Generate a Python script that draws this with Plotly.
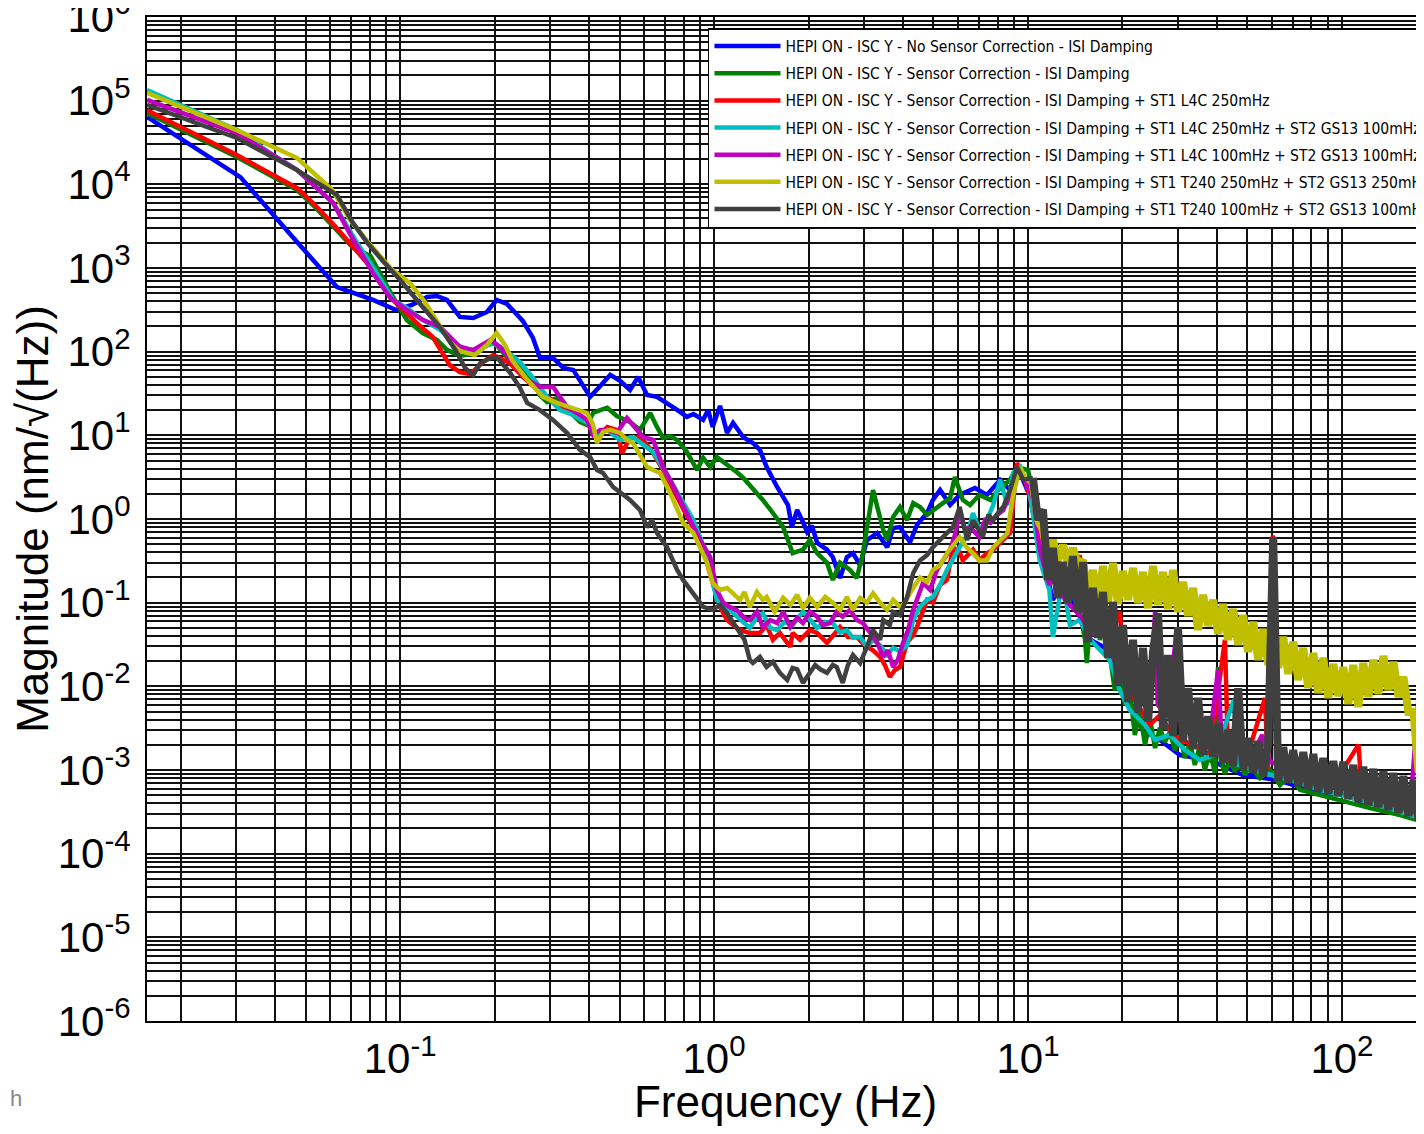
import plotly.graph_objects as go

# ---------------- data ----------------
# shared high-frequency bins (Hz) used by the two dense, noisy series
freq_hi = [10.37, 10.76, 11.16, 11.58, 12.01, 12.46, 12.93, 13.41, 13.91, 14.43,
           14.97, 15.53, 16.11, 16.71, 17.34, 17.99, 18.66, 19.36, 20.08, 20.83,
           21.61, 22.42, 23.26, 24.13, 25.03, 25.96, 26.94, 27.94, 28.99, 30.07,
           31.20, 32.37, 33.58, 34.83, 36.14, 37.49, 38.89, 40.35, 41.85, 43.42,
           45.04, 46.73, 48.47, 50.29, 52.17, 54.12, 56.14, 58.24, 60.42, 62.68,
           65.03, 67.46, 69.98, 72.60, 75.32, 78.14, 81.06, 84.09, 87.24, 90.50,
           93.89, 97.40, 101.0, 104.8, 108.7, 112.8, 117.0, 121.4, 126.0, 130.7,
           135.6, 140.6, 145.9, 151.4, 157.0, 162.9, 169.0, 175.3, 181.9]

blue_f = [0.015625, 0.031, 0.0446, 0.063, 0.082, 0.097, 0.109, 0.122, 0.131, 0.141,
          0.155, 0.171, 0.189, 0.203, 0.219, 0.246, 0.265, 0.279, 0.307, 0.331,
          0.356, 0.38, 0.403, 0.434, 0.467, 0.502, 0.54, 0.573, 0.612, 0.658,
          0.708, 0.763, 0.82, 0.86, 0.923, 0.958, 0.99, 1.045, 1.10, 1.15,
          1.24, 1.33, 1.40, 1.47, 1.59, 1.66, 1.72, 1.77, 1.84, 1.92,
          1.98, 2.05, 2.13, 2.29, 2.39, 2.52, 2.65, 2.77, 2.92, 3.07,
          3.31, 3.56, 3.72, 3.91, 4.21, 4.43, 4.77, 4.98, 5.25, 5.65,
          6.06, 6.78, 7.4, 8.15, 8.77, 9.23,
          10.1, 11.2, 12.0, 12.9, 14.3, 15.8, 18.2, 20.7, 23.2, 26.3,
          30.5, 37.9, 48.4, 62.0, 79.2, 100.7, 129.0, 165.0, 182.0]
blue_v = [6.4e4, 1.22e4, 2.55e3, 5.9e2, 4.15e2, 3.15e2, 3.62e2, 4.5e2, 4.63e2, 4.15e2,
          2.6e2, 2.53e2, 2.98e2, 4.15e2, 3.72e2, 2.33e2, 1.46e2, 84, 84, 64,
          60.5, 42, 28.8, 38.9, 52.7, 44.7, 34.9, 49.9, 30.4, 28.8,
          24.4, 20.1, 16.6, 18, 15.3, 20.1, 12.6, 22.5, 10.7, 14.1,
          9.5, 8.1, 6.7, 4.2, 2.4, 1.83, 1.47, 0.80, 1.28, 0.92,
          0.70, 0.83, 0.52, 0.43, 0.35, 0.197, 0.35, 0.39, 0.28, 0.56,
          0.68, 0.46, 0.78, 0.80, 0.53, 0.85, 1.18, 1.69, 2.22, 1.47,
          1.94, 2.35, 1.94, 2.93, 2.22, 4.3,
          1.94, 0.32, 0.108, 0.163, 0.082, 0.036, 0.027, 0.0069, 0.003, 0.00228,
          0.00151, 0.00132, 0.00087, 0.00076, 0.00058, 0.0005, 0.00038, 0.000315, 0.000267]

green_f = [0.015625, 0.0302, 0.047, 0.0528, 0.062, 0.071, 0.0805, 0.0883, 0.095, 0.105,
           0.118, 0.131, 0.141, 0.155, 0.176, 0.189, 0.20, 0.219, 0.246, 0.265,
           0.279, 0.294, 0.316, 0.348, 0.374, 0.394, 0.412, 0.434, 0.457, 0.49,
           0.54, 0.581, 0.626, 0.658, 0.688, 0.725, 0.763, 0.82, 0.883, 0.923,
           0.972, 1.02, 1.10, 1.18, 1.24, 1.33, 1.43, 1.54, 1.66, 1.72,
           1.78, 1.92, 2.02, 2.13, 2.29, 2.39, 2.52, 2.71, 2.85, 2.98,
           3.09, 3.21, 3.33, 3.46, 3.56, 3.72, 3.91, 4.12, 4.31, 4.53,
           4.77, 4.98, 5.36, 5.65, 5.85, 6.2, 6.54, 7.0, 7.6, 8.15,
           8.77, 9.23,
           10.0, 10.5, 10.9, 11.3, 11.75, 12.2, 12.6, 13.1, 13.6, 14.1,
           14.6, 15.2, 15.4, 15.75, 16.3, 16.95, 17.6, 18.2, 18.9, 19.6,
           20.4, 21.1, 21.9, 22.7, 23.6, 24.5, 25.4, 26.3, 27.3, 28.3,
           29.4, 30.5, 31.6, 32.8, 34.0, 35.3, 36.6, 38.0, 39.4, 40.3,
           41.2, 42.4, 44.0, 45.6, 47.3, 49.1, 50.9, 54.8, 59.0, 63.5,
           68.3, 73.5, 85.1, 98.5, 123.0, 153.0, 182.5]
green_v = [7.1e4, 2.12e4, 8.55e3, 5.66e3, 3.0e3, 1.73e3, 1.39e3, 7.2e2, 4.5e2, 2.39e2,
           1.67e2, 1.38e2, 1.05e2, 89, 97, 120, 127, 86, 64, 46,
           30, 25, 28, 19, 14.5, 13.3, 18.5, 20, 21.3, 17,
           14.5, 11.6, 18.5, 12.6, 9.3, 9.8, 8.8, 6.3, 3.85, 5.4,
           4.18, 5.5, 4.5, 3.65, 3.1, 2.35, 1.69, 1.18, 0.80, 0.56,
           0.39, 0.43, 0.56, 0.39, 0.30, 0.187, 0.30, 0.246, 0.197, 0.39,
           0.97, 2.22, 1.28, 0.74, 0.56, 1.06, 1.39, 0.97, 1.55, 1.39,
           1.12, 1.28, 1.55, 1.78, 3.18, 1.69, 1.47, 1.94, 1.69, 2.35,
           2.93, 4.18,
           3.85, 1.69, 0.97, 0.32, 0.177, 0.32, 0.134, 0.214, 0.108, 0.163,
           0.0775, 0.0359, 0.019, 0.054, 0.108, 0.0359, 0.062, 0.0258, 0.009, 0.0149,
           0.006, 0.009, 0.00262, 0.00494, 0.002, 0.00396, 0.00183, 0.0032, 0.00216, 0.00285,
           0.00173, 0.00262, 0.00139, 0.00216, 0.00115, 0.002, 0.001, 0.00164, 0.00092, 0.017,
           0.00132, 0.0009, 0.00139, 0.00095, 0.00125, 0.00087, 0.00115, 0.0008, 0.001, 0.00066,
           0.00087, 0.00058, 0.0005, 0.00044, 0.00035, 0.00029, 0.00024]

red_f = [0.015625, 0.0302, 0.047, 0.0528, 0.062, 0.071, 0.082, 0.095, 0.113, 0.127,
         0.144, 0.155, 0.167, 0.184, 0.198, 0.224, 0.246, 0.279, 0.316, 0.356,
         0.394, 0.424, 0.457, 0.49, 0.51, 0.54, 0.581, 0.612, 0.64, 0.688,
         0.725, 0.78, 0.84, 0.923, 0.99, 1.045, 1.10, 1.21, 1.30, 1.40,
         1.47, 1.54, 1.62, 1.75, 1.78, 1.88, 2.02, 2.13, 2.29, 2.52,
         2.67, 2.85, 3.02, 3.21, 3.38, 3.5, 3.63, 3.77, 3.91, 4.12,
         4.31, 4.43, 4.77, 4.98, 5.25, 5.52, 5.77, 6.06, 6.2, 6.68,
         7.0, 7.4, 7.75, 8.34, 8.77, 9.23, 9.78,
         10.4, 10.9, 11.7, 12.2, 13.1, 14.1, 14.6, 15.8, 17.0, 18.2,
         19.6, 20.4, 21.9, 24.4, 26.3, 28.3, 30.5, 34.0, 37.9, 42.4,
         43.4, 49.0, 56.9, 58.1, 60.3, 62.6, 73.5, 91.8, 113.0, 116.0,
         142.0, 182.0]
red_v = [7.7e4, 2.24e4, 9.0e3, 5.98e3, 3.18e3, 1.78e3, 9.5e2, 4.15e2, 2.2e2, 1.5e2,
         69, 57, 54, 75, 91, 73, 50, 33, 24.4, 18.5,
         14.1, 9.5, 12.6, 11.6, 6.15, 9.5, 9.5, 7.7, 6.15, 3.85,
         2.69, 1.55, 0.92, 0.43, 0.172, 0.089, 0.062, 0.047, 0.0435, 0.0435,
         0.054, 0.036, 0.0435, 0.0296, 0.0435, 0.036, 0.047, 0.0435, 0.033, 0.051,
         0.039, 0.039, 0.031, 0.027, 0.0225, 0.018, 0.013, 0.0157, 0.017, 0.033,
         0.041, 0.051, 0.108, 0.1, 0.163, 0.187, 0.46, 0.40, 0.32, 0.43,
         0.32, 0.39, 0.43, 0.56, 0.68, 4.67, 2.93,
         1.28, 0.56, 0.187, 0.49, 0.142, 0.246, 0.37, 0.082, 0.142, 0.036,
         0.078, 0.0119, 0.0069, 0.00345, 0.0045, 0.003, 0.00228, 0.002, 0.00151, 0.036,
         0.00132, 0.00115, 0.00725, 0.001, 0.64, 0.00087, 0.00072, 0.00058, 0.002, 0.00046,
         0.00038, 0.00029]

cyan_f = [0.015625, 0.0302, 0.0394, 0.047, 0.0612, 0.073, 0.082, 0.095, 0.105, 0.118,
          0.134, 0.152, 0.171, 0.184, 0.198, 0.219, 0.241, 0.265, 0.294, 0.323,
          0.356, 0.394, 0.424, 0.457, 0.502, 0.552, 0.595, 0.64, 0.688, 0.74,
          0.797, 0.86, 0.923, 0.972, 1.02, 1.08, 1.15, 1.23, 1.30, 1.37,
          1.43, 1.51, 1.59, 1.68, 1.78, 1.92, 2.02, 2.13, 2.26, 2.39,
          2.52, 2.65, 2.77, 2.92, 3.07, 3.21, 3.38, 3.56, 3.72, 3.91,
          4.12, 4.31, 4.53, 4.77, 4.98, 5.25, 5.52, 5.85, 6.06, 6.4,
          6.68, 7.0, 7.4, 7.75, 8.15, 8.6, 8.97, 9.45,
          10.1, 10.9, 11.7, 12.0, 12.9, 13.6, 14.6, 15.8, 17.0, 18.2,
          19.6, 21.1, 23.6, 25.4, 28.3, 31.6, 35.3, 39.4, 45.3, 46.7,
          54.9, 68.3, 85.0, 106.0, 132.0, 165.0, 182.0]
cyan_v = [1.34e5, 4.45e4, 2.24e4, 1.48e4, 6.0e3, 1.99e3, 1.03e3, 4.15e2, 3.33e2, 2.4e2,
          1.82e2, 1.2e2, 1.0e2, 1.14e2, 1.27e2, 1.0e2, 75, 48.5, 28.8, 20,
          17.5, 14.1, 10.1, 11.6, 8.8, 9.5, 7.7, 6.3, 4.07, 2.55,
          1.55, 0.97, 0.49, 0.246, 0.108, 0.094, 0.075, 0.059, 0.05, 0.066,
          0.075, 0.05, 0.047, 0.059, 0.054, 0.078, 0.062, 0.05, 0.059, 0.057,
          0.044, 0.047, 0.038, 0.039, 0.0296, 0.036, 0.031, 0.0237, 0.0288, 0.026,
          0.031, 0.062, 0.089, 0.108, 0.117, 0.163, 0.246, 0.37, 0.46, 0.64,
          1.18, 0.74, 0.97, 1.47, 2.93, 1.47, 3.55, 4.18,
          2.22, 0.32, 0.142, 0.039, 0.187, 0.054, 0.062, 0.036, 0.027, 0.0207,
          0.009, 0.0052, 0.00345, 0.0023, 0.00262, 0.00173, 0.00132, 0.00151, 0.0069, 0.00115,
          0.00095, 0.00076, 0.00058, 0.000476, 0.00038, 0.00029, 0.000253]

magenta_f = [0.015625, 0.0302, 0.047, 0.0612, 0.071, 0.082, 0.093, 0.105, 0.118, 0.134,
             0.144, 0.155, 0.171, 0.194, 0.208, 0.229, 0.254, 0.279, 0.307, 0.323,
             0.34, 0.366, 0.394, 0.412, 0.434, 0.457, 0.49, 0.528, 0.552, 0.595,
             0.64, 0.688, 0.725, 0.78, 0.84, 0.903, 0.972, 1.02, 1.07, 1.12,
             1.18, 1.25, 1.30, 1.37, 1.43, 1.51, 1.59, 1.66, 1.75, 1.84,
             1.92, 2.02, 2.13, 2.22, 2.34, 2.46, 2.57, 2.71, 2.85, 2.98,
             3.14, 3.31, 3.46, 3.58, 3.72, 3.85, 4.0, 4.15, 4.31, 4.63,
             4.88, 5.13, 5.36, 5.65, 5.85, 6.06, 6.3, 6.54, 7.0, 7.3,
             7.6, 7.97, 8.34, 8.77, 9.23, 9.78,
             10.4, 10.9, 11.7, 12.4, 13.1, 14.1, 15.0, 15.8, 17.0, 18.2,
             19.6, 21.1, 22.8, 24.4, 25.4, 25.9, 27.9, 29.8, 30.5, 34.0,
             37.9, 40.3, 41.5, 45.7, 50.9, 55.7, 59.0, 68.3, 85.0, 106.0,
             132.0, 165.0, 177.0, 182.0]
magenta_v = [1.02e5, 4.1e4, 1.48e4, 6.0e3, 2.16e3, 8.7e2, 4.4e2, 3.15e2, 2.4e2, 1.97e2,
             1.5e2, 1.14e2, 1.05e2, 1.38e2, 1.14e2, 73, 46, 38, 38, 28.8,
             21.9, 18.5, 15.3, 10.1, 11.6, 11.6, 10.7, 16.1, 13.3, 9.5,
             8.8, 4.18, 2.93, 1.69, 1.03, 0.56, 0.35, 0.142, 0.10, 0.089,
             0.082, 0.066, 0.062, 0.078, 0.051, 0.062, 0.057, 0.078, 0.051, 0.066,
             0.057, 0.078, 0.068, 0.054, 0.057, 0.078, 0.068, 0.082, 0.062, 0.057,
             0.044, 0.033, 0.0225, 0.027, 0.017, 0.0207, 0.033, 0.047, 0.082, 0.172,
             0.142, 0.246, 0.32, 0.43, 0.64, 1.28, 0.74, 0.80, 0.61, 0.97,
             0.90, 1.12, 1.28, 1.94, 3.55, 2.93,
             1.69, 0.43, 0.163, 0.23, 0.108, 0.082, 0.062, 0.04, 0.054, 0.027,
             0.0157, 0.009, 0.0069, 0.006, 0.078, 0.006, 0.0045, 0.051, 0.00396, 0.00262,
             0.00228, 0.0157, 0.002, 0.00173, 0.00132, 0.00262, 0.00125, 0.00106, 0.0008, 0.00058,
             0.00044, 0.000333, 0.0119, 0.000253]

yellow_f_lo = [0.015625, 0.0302, 0.047, 0.0608, 0.0693, 0.0805, 0.0944, 0.1076, 0.12, 0.134,
               0.144, 0.155, 0.173, 0.189, 0.203, 0.216, 0.227, 0.254, 0.285, 0.316,
               0.356, 0.394, 0.412, 0.424, 0.443, 0.467, 0.502, 0.528, 0.552, 0.581,
               0.612, 0.64, 0.673, 0.725, 0.763, 0.797, 0.86, 0.903, 0.95, 0.99,
               1.045, 1.10, 1.15, 1.21, 1.25, 1.30, 1.37, 1.43, 1.47, 1.56,
               1.66, 1.75, 1.84, 1.92, 2.02, 2.13, 2.26, 2.39, 2.52, 2.65,
               2.77, 2.92, 3.07, 3.21, 3.38, 3.56, 3.72, 3.91, 4.06, 4.21,
               4.53, 4.77, 4.98, 5.25, 5.52, 5.77, 6.06, 6.4, 6.68, 7.0,
               7.4, 7.75, 8.15, 8.6, 8.97, 9.23, 9.45, 9.78]
yellow_v_lo = [1.24e5, 4.45e4, 2.06e4, 8.55e3, 3.75e3, 1.88e3, 9.5e2, 6.6e2, 3.93e2, 1.97e2,
               1.31e2, 1.02e2, 91, 120, 167, 120, 80, 46, 28.8, 24.4,
               21.3, 18.5, 13.3, 8.1, 11, 11.6, 10.7, 8.8, 8.1, 5.8,
               4.18, 3.85, 3.55, 2.05, 1.28, 0.90, 0.68, 0.45, 0.30, 0.172,
               0.142, 0.15, 0.13, 0.108, 0.134, 0.089, 0.134, 0.108, 0.117, 0.078,
               0.114, 0.094, 0.124, 0.086, 0.114, 0.089, 0.117, 0.1, 0.082, 0.117,
               0.082, 0.114, 0.1, 0.13, 0.1, 0.082, 0.108, 0.089, 0.1, 0.13,
               0.2, 0.177, 0.246, 0.28, 0.39, 0.49, 0.61, 0.45, 0.39, 0.32,
               0.32, 0.46, 0.56, 0.68, 1.94, 2.93, 4.18, 3.1]
yellow_v_hi = [2.55, 0.97, 0.74, 0.36, 0.56, 0.324, 0.49, 0.298, 0.45, 0.282,
               0.324, 0.099, 0.246, 0.091, 0.275, 0.102, 0.298, 0.0965, 0.239, 0.108,
               0.26, 0.099, 0.233, 0.086, 0.275, 0.094, 0.233, 0.084, 0.246, 0.0775,
               0.177, 0.0695, 0.15, 0.0472, 0.124, 0.0527, 0.108, 0.0423, 0.0965, 0.0359,
               0.084, 0.0313, 0.071, 0.0258, 0.059, 0.0207, 0.0485, 0.018, 0.0435, 0.0166,
               0.039, 0.0141, 0.034, 0.0119, 0.0288, 0.00954, 0.025, 0.0083, 0.0219, 0.00725,
               0.0185, 0.00766, 0.017, 0.00615, 0.018, 0.00566, 0.019, 0.00745, 0.0207, 0.00809,
               0.0231, 0.00903, 0.0196, 0.00745, 0.013, 0.00494, 0.00494, 0.0010, 0.0007]

gray_f_lo = [0.015625, 0.0302, 0.047, 0.063, 0.0705, 0.0786, 0.0887, 0.1, 0.118, 0.134,
             0.15, 0.161, 0.171, 0.18, 0.194, 0.203, 0.224, 0.241, 0.254, 0.279,
             0.307, 0.34, 0.374, 0.403, 0.424, 0.443, 0.477, 0.502, 0.54, 0.581,
             0.612, 0.635, 0.658, 0.708, 0.763, 0.797, 0.86, 0.923, 0.99, 1.045,
             1.10, 1.18, 1.25, 1.30, 1.33, 1.40, 1.47, 1.54, 1.62, 1.71,
             1.78, 1.84, 1.92, 2.02, 2.1, 2.18, 2.29, 2.39, 2.46, 2.57,
             2.67, 2.77, 2.92, 3.07, 3.21, 3.38, 3.46, 3.63, 3.72, 3.91,
             4.12, 4.31, 4.53, 4.77, 4.98, 5.36, 5.77, 6.06, 6.4, 6.68,
             6.93, 7.18, 7.48, 7.75, 8.15, 8.34, 8.77, 9.23, 9.66]
gray_v_lo = [8.9e4, 3.58e4, 1.48e4, 7.45e3, 3.55e3, 2.0e3, 1.18e3, 7.2e2, 3.42e2, 1.97e2,
             1.05e2, 64, 52.7, 73, 84, 86, 56, 37, 24.4, 20,
             15.3, 10.7, 6.7, 5.5, 3.85, 3.55, 2.41, 2.05, 1.69, 1.28,
             0.80, 0.97, 0.68, 0.46, 0.246, 0.187, 0.13, 0.089, 0.082, 0.094,
             0.075, 0.051, 0.036, 0.0207, 0.019, 0.0225, 0.017, 0.0196, 0.0145, 0.0119,
             0.0166, 0.016, 0.011, 0.0145, 0.018, 0.016, 0.0145, 0.018, 0.017, 0.011,
             0.018, 0.0237, 0.019, 0.0296, 0.047, 0.036, 0.062, 0.054, 0.0775, 0.071,
             0.117, 0.226, 0.32, 0.37, 0.46, 0.61, 0.80, 1.39, 0.56, 0.97,
             0.74, 0.61, 1.12, 0.97, 1.28, 1.39, 2.22, 4.18, 2.93]
gray_v_hi = [3.1, 0.97, 1.3, 0.187, 0.45, 0.114, 0.306, 0.099, 0.36, 0.0775,
             0.306, 0.034, 0.15, 0.038, 0.134, 0.0219, 0.102, 0.0101, 0.054, 0.0065,
             0.036, 0.0049, 0.0288, 0.0038, 0.0258, 0.075, 0.003, 0.0237, 0.00255, 0.0498,
             0.00222, 0.0095, 0.00178, 0.0073, 0.00151, 0.0044, 0.00143, 0.00355, 0.00121, 0.0030,
             0.00112, 0.0095, 0.0010, 0.00241, 0.00092, 0.00222, 0.00085, 0.00205, 0.61, 0.00074,
             0.00188, 0.0007, 0.00173, 0.000645, 0.00164, 0.00059, 0.00155, 0.00055, 0.00139, 0.00052,
             0.00128, 0.00049, 0.00125, 0.00045, 0.00115, 0.000415, 0.00109, 0.00038, 0.00103, 0.00036,
             0.00097, 0.000333, 0.00092, 0.000306, 0.00085, 0.000282, 0.00076, 0.000253, 0.0113]

names = [
    "HEPI ON - ISC Y - No Sensor Correction - ISI Damping",
    "HEPI ON - ISC Y - Sensor Correction - ISI Damping",
    "HEPI ON - ISC Y - Sensor Correction - ISI Damping + ST1 L4C 250mHz",
    "HEPI ON - ISC Y - Sensor Correction - ISI Damping + ST1 L4C 250mHz + ST2 GS13 100mHz",
    "HEPI ON - ISC Y - Sensor Correction - ISI Damping + ST1 L4C 100mHz + ST2 GS13 100mHz",
    "HEPI ON - ISC Y - Sensor Correction - ISI Damping + ST1 T240 250mHz + ST2 GS13 250mHz",
    "HEPI ON - ISC Y - Sensor Correction - ISI Damping + ST1 T240 100mHz + ST2 GS13 100mHz",
]
colors = ["#0000FF", "#008000", "#FF0000", "#00BFBF", "#BF00BF", "#BFBF00", "#404040"]

x_tickvals = [0.1, 1, 10, 100]
x_ticktext = ["10<sup>-1</sup>", "10<sup>0</sup>", "10<sup>1</sup>", "10<sup>2</sup>"]
y_tickvals = [1e-6, 1e-5, 1e-4, 1e-3, 1e-2, 1e-1, 1, 10, 100, 1e3, 1e4, 1e5, 1e6]
y_ticktext = ["10<sup>-6</sup>", "10<sup>-5</sup>", "10<sup>-4</sup>", "10<sup>-3</sup>",
              "10<sup>-2</sup>", "10<sup>-1</sup>", "10<sup>0</sup>", "10<sup>1</sup>",
              "10<sup>2</sup>", "10<sup>3</sup>", "10<sup>4</sup>", "10<sup>5</sup>",
              "10<sup>6</sup>"]

# (x, y, dense high-frequency part or None)
series = [
    (blue_f, blue_v, None),
    (green_f, green_v, None),
    (red_f, red_v, None),
    (cyan_f, cyan_v, None),
    (magenta_f, magenta_v, None),
    (yellow_f_lo + freq_hi[:1], yellow_v_lo + yellow_v_hi[:1], yellow_v_hi),
    (gray_f_lo + freq_hi[:1], gray_v_lo + gray_v_hi[:1], gray_v_hi),
]

# ---------------- figure ----------------
fig = go.Figure()
for (fx, fy, dense), nm, col in zip(series, names, colors):
    fig.add_trace(go.Scatter(x=fx, y=fy, mode="lines", name=nm, legendgroup=nm,
                             line=dict(color=col, width=4.5)))
    if dense is not None:
        # noisy band above 10 Hz: same series, drawn with a heavier stroke
        fig.add_trace(go.Scatter(x=freq_hi, y=dense, mode="lines", name=nm, legendgroup=nm,
                                 showlegend=False, line=dict(color=col, width=8)))

label_font = dict(family="Liberation Sans, Arial, sans-serif", size=42, color="black")
title_font = dict(family="Liberation Sans, Arial, sans-serif", size=44, color="black")
grid = dict(showgrid=True, gridcolor="#111111", gridwidth=1.5)

# page body has an 8 px margin: figure is sized so that it ends at the window edge
fig.update_layout(
    width=1416, height=1118,
    margin=dict(l=139, r=0, t=9, b=105, autoexpand=False),
    paper_bgcolor="white", plot_bgcolor="white",
    showlegend=True,
    legend=dict(x=0.4393, y=0.989, xanchor="left", yanchor="top",
                bgcolor="white", bordercolor="black", borderwidth=1.5,
                font=dict(family="DejaVu Sans Condensed, Liberation Sans Narrow, sans-serif",
                          size=15.5, color="black"),
                itemwidth=66, tracegroupgap=4),
    xaxis=dict(type="log", range=[-1.8062, 2.2615], tickmode="array",
               tickvals=x_tickvals, ticktext=x_ticktext, tickfont=label_font, ticks="",
               ticklabeloverflow="allow",
               title=dict(text="Frequency (Hz)", font=title_font, standoff=4),
               showline=True, mirror=True, linecolor="black", linewidth=2,
               minor=dict(dtick="D1", ticks="", **grid), zeroline=False, **grid),
    yaxis=dict(type="log", range=[-6, 6], tickmode="array",
               tickvals=y_tickvals, ticktext=y_ticktext, tickfont=label_font, ticks="",
               ticklabeloverflow="allow", ticklabelstandoff=6,
               title=dict(text="Magnitude (nm/\u221a(Hz))", font=title_font, standoff=2),
               showline=True, mirror=True, linecolor="black", linewidth=2,
               minor=dict(dtick="D1", ticks="", **grid), zeroline=False, **grid),
    annotations=[dict(text="h", xref="paper", yref="paper", x=-0.1088, y=-0.077,
                      xanchor="left", yanchor="middle", showarrow=False,
                      font=dict(family="Liberation Sans, Arial, sans-serif", size=22, color="#888888"))],
)

fig.write_html("out.html")
